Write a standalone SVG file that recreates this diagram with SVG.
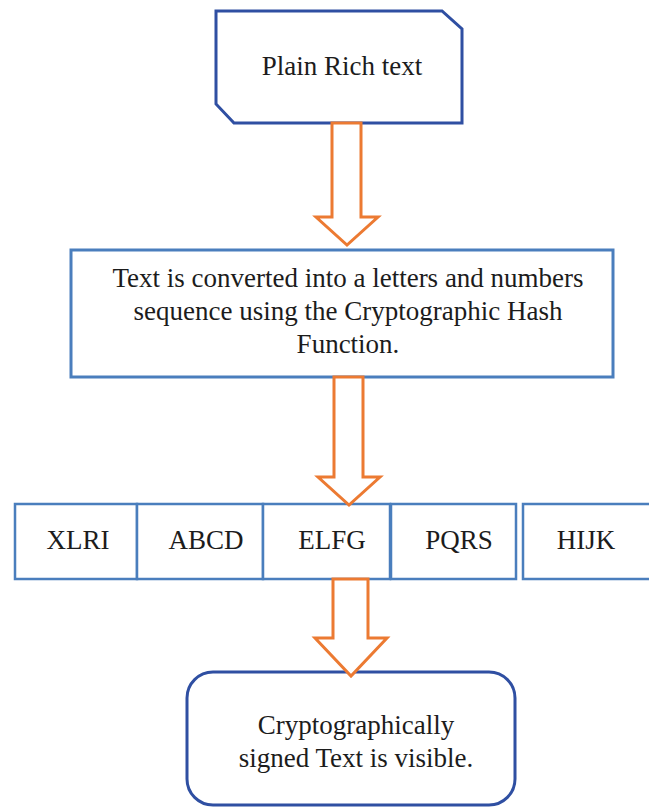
<svg xmlns="http://www.w3.org/2000/svg" width="649" height="807" viewBox="0 0 649 807">
  <style>
    .lbl { font-family: "Liberation Serif", "Noto Serif", "DejaVu Serif", serif; font-size: 27px; fill: #1c1c1c; text-anchor: middle; }
    .dark { fill: #ffffff; stroke: #2f4fa2; stroke-width: 3; }
    .light { fill: #ffffff; stroke: #4a7ebd; stroke-width: 3; }
    .cell { fill: #ffffff; stroke: #4a7ebd; stroke-width: 2.5; }
    .flow { fill: #ffffff; stroke: #ec7a32; stroke-width: 3; stroke-linejoin: miter; }
  </style>
  <rect width="649" height="807" fill="#ffffff"/>

  <!-- input node: snipped corners top-right and bottom-left -->
  <g id="plain-text">
    <polygon class="dark" points="216,11 442,11 462,29 462,123 234,123 216,104"/>
    <text class="lbl" x="342" y="75">Plain Rich text</text>
  </g>

  <!-- hashing step -->
  <g id="hash-step">
    <rect class="light" x="71" y="250" width="542" height="127"/>
    <text class="lbl" x="348" y="287">Text is converted into a letters and numbers</text>
    <text class="lbl" x="348" y="320">sequence using the Cryptographic Hash</text>
    <text class="lbl" x="348" y="353">Function.</text>
  </g>

  <!-- hashed output sequence -->
  <g id="seq-xlri">
    <rect class="cell" x="15" y="504" width="122" height="75"/>
    <text class="lbl" x="78" y="549">XLRI</text>
  </g>
  <g id="seq-abcd">
    <rect class="cell" x="137" y="504" width="126" height="75"/>
    <text class="lbl" x="206" y="549">ABCD</text>
  </g>
  <g id="seq-elfg">
    <rect class="cell" x="263" y="504" width="127" height="75"/>
    <text class="lbl" x="332" y="549">ELFG</text>
  </g>
  <g id="seq-pqrs">
    <rect class="cell" x="391" y="504" width="125" height="75"/>
    <text class="lbl" x="459" y="549">PQRS</text>
  </g>
  <g id="seq-hijk">
    <rect class="cell" x="523" y="504" width="130" height="75"/>
    <text class="lbl" x="586" y="549">HIJK</text>
  </g>

  <!-- result node -->
  <g id="signed-text">
    <rect class="dark" x="187" y="672" width="328" height="133" rx="26" ry="26"/>
    <text class="lbl" x="356" y="734">Cryptographically</text>
    <text class="lbl" x="356" y="767">signed Text is visible.</text>
  </g>

  <!-- block arrows between stages -->
  <g id="connectors">
    <polygon class="flow" points="332,123 361,123 361,217 378,217 347,245 316,217 332,217"/>
    <polygon class="flow" points="334,377 363,377 363,477 380,477 349,505 318,477 334,477"/>
    <polygon class="flow" points="333,579 368,579 368,638 387,638 351,676 315,638 333,638"/>
  </g>
</svg>
